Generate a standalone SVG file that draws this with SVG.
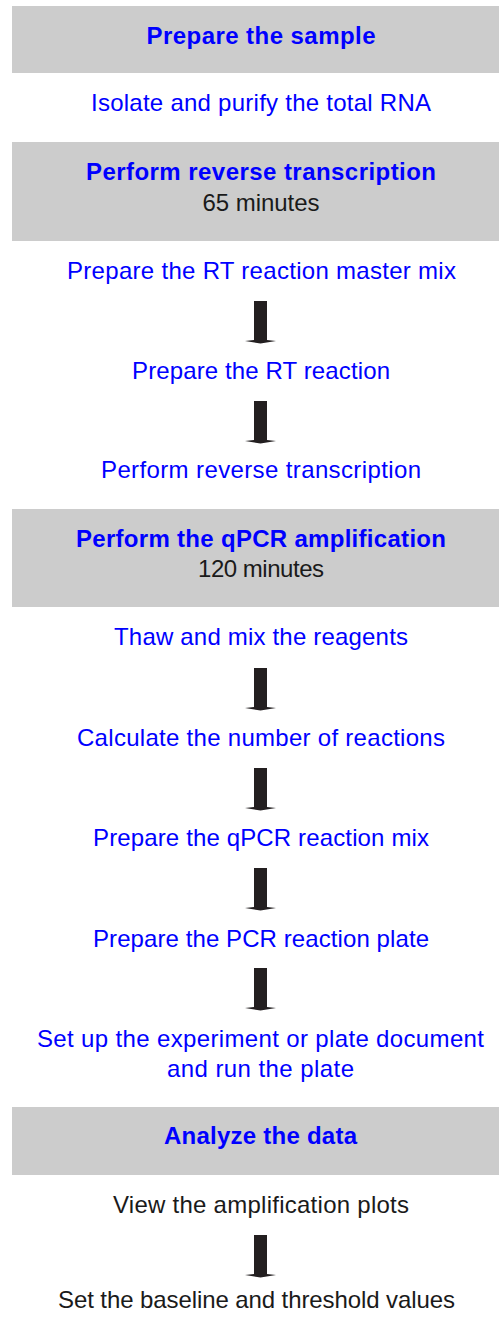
<svg xmlns="http://www.w3.org/2000/svg" width="499" height="1317" viewBox="0 0 499 1317">
<style>
.box{fill:#cccccc}
text{font-family:"Liberation Sans",Arial,sans-serif;font-size:24px;text-anchor:middle}
.h{fill:#0000ff;font-weight:bold}
.s{fill:#0000ff}
.k{fill:#1a1a1a}
.arr{fill:#231f20}
</style>
<defs>
<path id="arrow" class="arr" d="M-6.5,0 H6.5 V39 L15.5,40 L0,42.5 L-15.5,40 L-6.5,39 Z"/>
</defs>
<rect x="0" y="0" width="499" height="1317" fill="#ffffff"/>
<g id="connectors">
<use href="#arrow" x="260.5" y="301"/>
<use href="#arrow" x="260.5" y="401"/>
<use href="#arrow" x="260.5" y="668"/>
<use href="#arrow" x="260.5" y="768"/>
<use href="#arrow" x="260.5" y="868"/>
<use href="#arrow" x="260.5" y="968"/>
<use href="#arrow" x="260.5" y="1235"/>
</g>
<g id="phase1">
<rect class="box" x="12" y="6" width="487" height="67"/>
<text class="h" x="261" y="44" textLength="229">Prepare the sample</text>
</g>
<g id="step-isolate">
<text class="s" x="261" y="111" textLength="340">Isolate and purify the total RNA</text>
</g>
<g id="phase2">
<rect class="box" x="12" y="142" width="487" height="99"/>
<text class="h" x="261" y="180" textLength="350">Perform reverse transcription</text>
<text class="k" x="261" y="211" textLength="117">65 minutes</text>
</g>
<g id="step-rt-master">
<text class="s" x="261.5" y="279" textLength="389">Prepare the RT reaction master mix</text>
</g>
<g id="step-rt-reaction">
<text class="s" x="261" y="379" textLength="258">Prepare the RT reaction</text>
</g>
<g id="step-rt-perform">
<text class="s" x="261" y="478" textLength="320">Perform reverse transcription</text>
</g>
<g id="phase3">
<rect class="box" x="12" y="509" width="487" height="98"/>
<text class="h" x="261" y="547" textLength="370">Perform the qPCR amplification</text>
<text class="k" x="261" y="577" textLength="126">120 minutes</text>
</g>
<g id="step-thaw">
<text class="s" x="261" y="645" textLength="294">Thaw and mix the reagents</text>
</g>
<g id="step-calc">
<text class="s" x="261" y="746" textLength="368">Calculate the number of reactions</text>
</g>
<g id="step-qpcr-mix">
<text class="s" x="261" y="846" textLength="336">Prepare the qPCR reaction mix</text>
</g>
<g id="step-plate">
<text class="s" x="261" y="947" textLength="336">Prepare the PCR reaction plate</text>
</g>
<g id="step-run">
<text class="s" x="260.5" y="1047" textLength="447">Set up the experiment or plate document</text>
<text class="s" x="260.5" y="1077" textLength="187">and run the plate</text>
</g>
<g id="phase4">
<rect class="box" x="12" y="1107" width="487" height="68"/>
<text class="h" x="260.5" y="1144" textLength="193">Analyze the data</text>
</g>
<g id="step-view">
<text class="k" x="261" y="1213" textLength="296">View the amplification plots</text>
</g>
<g id="step-baseline">
<text class="k" x="256.5" y="1308" textLength="397">Set the baseline and threshold values</text>
</g>
</svg>
